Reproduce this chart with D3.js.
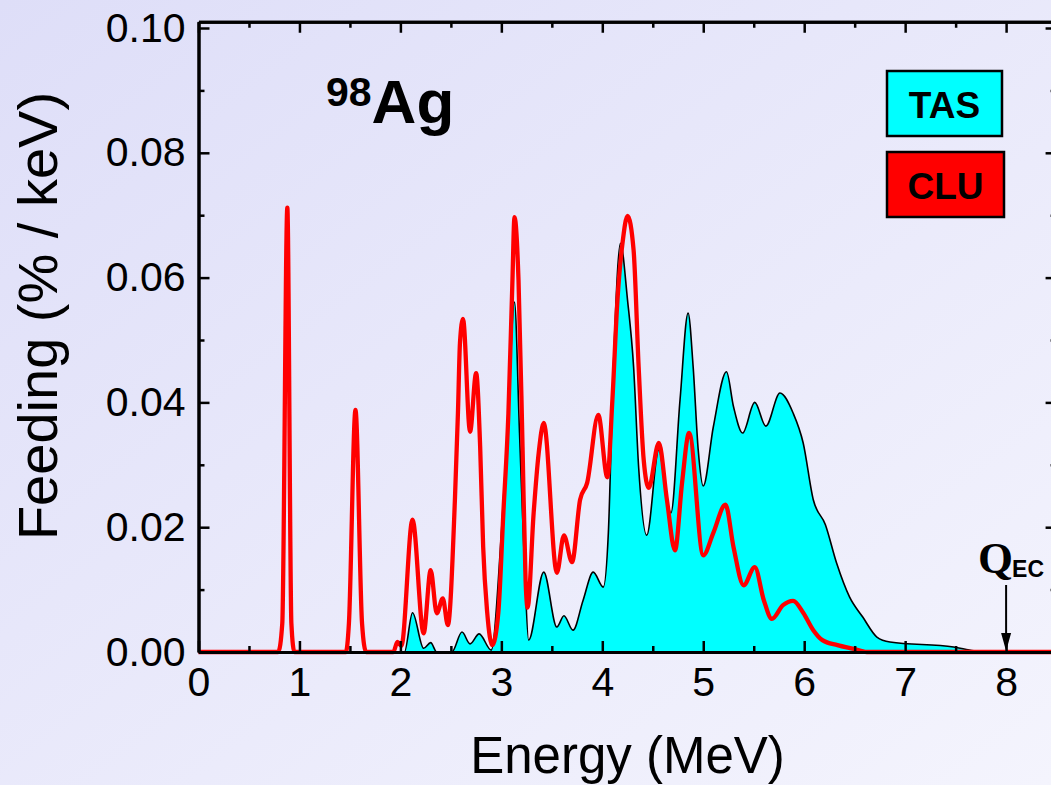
<!DOCTYPE html>
<meta charset="utf-8">
<style>
body { margin: 0; }
text { font-family: "Liberation Sans", Arial, sans-serif; fill: #000; }
.axis path { stroke: #000; stroke-width: 3; }
.axis line { stroke: #000; stroke-width: 2.5; }
.axis text { font-size: 41px; }
</style>
<head>
    <title>98Ag feeding</title>
</head>

<script src="https://d3js.org/d3.v7.min.js"></script>

<div id="viz"></div>

<script>
// TAS feeding, energy (MeV) / feeding (%/keV)
var tasE = [0, 2.04, 2.12, 2.23, 2.30, 2.36, 2.51, 2.61, 2.69, 2.78, 2.90, 3.00, 3.06, 3.13, 3.18, 3.23, 3.27,
    3.42, 3.55, 3.62, 3.71, 3.81, 3.91, 4.01, 4.06, 4.11, 4.18, 4.25, 4.31, 4.36, 4.44, 4.56, 4.64, 4.68,
    4.77, 4.85, 4.90, 4.95, 5.00, 5.10, 5.23, 5.30, 5.39, 5.51, 5.62, 5.76, 5.89, 5.99, 6.09, 6.21, 6.32,
    6.45, 6.58, 6.72, 6.85, 7.48, 7.68, 7.78, 8.5];
var tasF = [0, 0, 0.0063, 0.0006, 0.0015, 0, 0, 0.0032, 0.0013, 0.0029, 0.0003, 0.0190, 0.0350, 0.0561, 0.0351, 0.0136, 0.0019,
    0.0128, 0.0040, 0.0058, 0.0035, 0.0083, 0.0128, 0.0104, 0.0191, 0.0457, 0.0655, 0.0564, 0.0457, 0.0296, 0.0187, 0.0324, 0.0244, 0.0223,
    0.0404, 0.0543, 0.0457, 0.0324, 0.0266, 0.0361, 0.0449, 0.0393, 0.0351, 0.0400, 0.0362, 0.0415, 0.0383, 0.0335, 0.0244, 0.0204, 0.0143,
    0.0088, 0.0056, 0.0024, 0.0016, 0.0008, 0.0002, 0, 0];

// CLU feeding
var cluE = [0, 0.79, 0.83, 0.88, 0.92, 0.95, 1.46, 1.49, 1.555, 1.62, 1.66, 1.93, 1.97, 2.01, 2.12, 2.23, 2.30, 2.36,
    2.42, 2.47, 2.54, 2.57, 2.59, 2.62, 2.69, 2.75, 2.79, 2.82, 2.86, 2.91, 2.97, 3.02, 3.07, 3.11, 3.13, 3.17,
    3.21, 3.24, 3.26, 3.32, 3.37, 3.42, 3.55, 3.62, 3.70, 3.78, 3.85, 3.96, 4.05, 4.10, 4.15, 4.20, 4.25, 4.31,
    4.36, 4.41, 4.46, 4.56, 4.64, 4.72, 4.79, 4.86, 5.00, 5.10, 5.22, 5.30, 5.40, 5.51, 5.60, 5.68, 5.79, 5.89,
    5.99, 6.09, 6.18, 6.33, 6.49, 6.62, 8.5];
var cluF = [0, 0, 0.0046, 0.0712, 0.0046, 0, 0, 0.0046, 0.0388, 0.0046, 0, 0, 0.0016, 0.0010, 0.0212, 0.0030, 0.0131, 0.0062,
    0.0086, 0.0043, 0.0244, 0.0383, 0.0495, 0.0534, 0.0353, 0.0447, 0.0329, 0.0168, 0.0063, 0.0011, 0.0063, 0.0223, 0.0383, 0.0596, 0.0697, 0.0596,
    0.0329, 0.0115, 0.0071, 0.0223, 0.0319, 0.0367, 0.0127, 0.0187, 0.0144, 0.0244, 0.0271, 0.0380, 0.0280, 0.0404, 0.0564, 0.0655, 0.0699, 0.0644,
    0.0457, 0.0308, 0.0263, 0.0335, 0.0244, 0.0163, 0.0271, 0.0351, 0.0155, 0.0191, 0.0236, 0.0168, 0.0107, 0.0136, 0.0083, 0.0053, 0.0075, 0.0082,
    0.0063, 0.0035, 0.0019, 0.0011, 0.0005, 0, 0];

var xMajor = [0, 1, 2, 3, 4, 5, 6, 7, 8];
var xMinor = [0.5, 1.5, 2.5, 3.5, 4.5, 5.5, 6.5, 7.5];
var yMajor = [0, 0.02, 0.04, 0.06, 0.08, 0.10];
var yMinor = [0.01, 0.03, 0.05, 0.07, 0.09];
var seriesNames = ["TAS", "CLU"];
var seriesColors = ["#00ffff", "#ff0000"];
var qec = 8.0;

var W = 1051, H = 785;
var svg = d3.select('#viz')
    .append('svg')
        .attr('width', W)
        .attr('height', H);

var grad = svg.append('defs').append('linearGradient')
    .attr('id', 'bg')
    .attr('x1', 0).attr('y1', 0).attr('x2', 1).attr('y2', 1);
grad.append('stop').attr('offset', '0%').attr('stop-color', '#dedef8');
grad.append('stop').attr('offset', '100%').attr('stop-color', '#f4f4fd');
svg.append('rect').attr('width', W).attr('height', H).attr('fill', 'url(#bg)');

var x = d3.scaleLinear().domain([0, 8.5]).range([198.5, 198.5 + 8.5 * 100.95]);
var y = d3.scaleLinear().domain([0, 0.1]).range([652, 28]);
var yTop = y(0.101);

var tas = tasE.map(function(e, i) { return [e, tasF[i]]; });
var clu = cluE.map(function(e, i) { return [e, cluF[i]]; });

// TAS filled area
svg.append('path')
    .datum(tas)
    .attr('fill', seriesColors[0])
    .attr('stroke', '#000')
    .attr('stroke-width', 1.6)
    .attr('d', d3.area()
        .x(function(d) { return x(d[0]); })
        .y0(y(0))
        .y1(function(d) { return y(d[1]); })
        .curve(d3.curveMonotoneX));

// CLU line
svg.append('path')
    .datum(clu)
    .attr('fill', 'none')
    .attr('stroke', seriesColors[1])
    .attr('stroke-width', 4.3)
    .attr('stroke-linejoin', 'round')
    .attr('d', d3.line()
        .x(function(d) { return x(d[0]); })
        .y(function(d) { return y(d[1]); })
        .curve(d3.curveMonotoneX));

// axes: bottom with labels, minor ticks, and the frame
svg.append('g')
    .attr('class', 'axis')
    .attr('transform', 'translate(0,' + y(0) + ')')
    .call(d3.axisBottom(x).tickValues(xMajor).tickSize(-11).tickSizeOuter(0).tickPadding(15).tickFormat(d3.format('d')));
svg.append('g')
    .attr('class', 'axis')
    .attr('transform', 'translate(0,' + y(0) + ')')
    .call(d3.axisBottom(x).tickValues(xMinor).tickSize(-6).tickSizeOuter(0).tickFormat(''));

svg.append('g')
    .attr('class', 'axis')
    .attr('transform', 'translate(0,' + yTop + ')')
    .call(d3.axisTop(x).tickValues(xMajor).tickSize(-11).tickSizeOuter(0).tickFormat(''));
svg.append('g')
    .attr('class', 'axis')
    .attr('transform', 'translate(0,' + yTop + ')')
    .call(d3.axisTop(x).tickValues(xMinor).tickSize(-6).tickSizeOuter(0).tickFormat(''));

var yl = d3.scaleLinear().domain([0, 0.101]).range([652, yTop]);
svg.append('g')
    .attr('class', 'axis')
    .attr('transform', 'translate(' + x(0) + ',0)')
    .call(d3.axisLeft(yl).tickValues(yMajor).tickSize(-11).tickSizeOuter(0).tickPadding(13).tickFormat(d3.format('.2f')));
svg.append('g')
    .attr('class', 'axis')
    .attr('transform', 'translate(' + x(0) + ',0)')
    .call(d3.axisLeft(yl).tickValues(yMinor).tickSize(-6).tickSizeOuter(0).tickFormat(''));
svg.append('g')
    .attr('class', 'axis')
    .attr('transform', 'translate(' + x(8.5) + ',0)')
    .call(d3.axisRight(yl).tickValues(yMajor).tickSize(-11).tickSizeOuter(0).tickFormat(''));
svg.append('g')
    .attr('class', 'axis')
    .attr('transform', 'translate(' + x(8.5) + ',0)')
    .call(d3.axisRight(yl).tickValues(yMinor).tickSize(-6).tickSizeOuter(0).tickFormat(''));

svg.selectAll('.axis text').attr('font-family', '"Liberation Sans", Arial, sans-serif');

// axis titles
svg.append('text')
    .attr('x', (x(0) + x(8.5)) / 2)
    .attr('y', 773)
    .attr('text-anchor', 'middle')
    .style('font-size', '51px')
    .text('Energy (MeV)');

svg.append('text')
    .attr('transform', 'translate(57,' + 316 + ') rotate(-90)')
    .attr('text-anchor', 'middle')
    .style('font-size', '56px')
    .text('Feeding (% / keV)');

// nucleus label
var nuc = svg.append('text')
    .attr('x', 326)
    .attr('y', 123)
    .style('font-weight', 'bold');
nuc.append('tspan').attr('dy', -17).style('font-size', '41px').text('98');
nuc.append('tspan').attr('dy', 17).style('font-size', '62px').text('Ag');

// legend boxes
var legY = [71, 152];
var legW = [115, 117];
seriesNames.forEach(function(name, i) {
    svg.append('rect')
        .attr('x', 887).attr('y', legY[i])
        .attr('width', legW[i]).attr('height', 65)
        .attr('fill', seriesColors[i])
        .attr('stroke', '#000')
        .attr('stroke-width', 2.5);
    svg.append('text')
        .attr('x', 887 + legW[i] / 2)
        .attr('y', legY[i] + 47)
        .attr('text-anchor', 'middle')
        .style('font-weight', 'bold')
        .style('font-size', '37px')
        .text(name);
});

// Q_EC marker
var q = svg.append('text')
    .attr('x', x(qec) - 28)
    .attr('y', 573)
    .style('font-weight', 'bold');
q.append('tspan').style('font-family', '"Liberation Serif", "Times New Roman", serif').style('font-size', '45px').text('Q');
q.append('tspan').attr('dy', 4).attr('dx', -1).style('font-size', '23px').text('EC');

svg.append('line')
    .attr('x1', x(qec)).attr('x2', x(qec))
    .attr('y1', 585).attr('y2', 636)
    .attr('stroke', '#000').attr('stroke-width', 2);
svg.append('path')
    .attr('d', 'M' + (x(qec) - 5) + ',633 L' + (x(qec) + 5) + ',633 L' + x(qec) + ',651 Z')
    .attr('fill', '#000');
</script>
